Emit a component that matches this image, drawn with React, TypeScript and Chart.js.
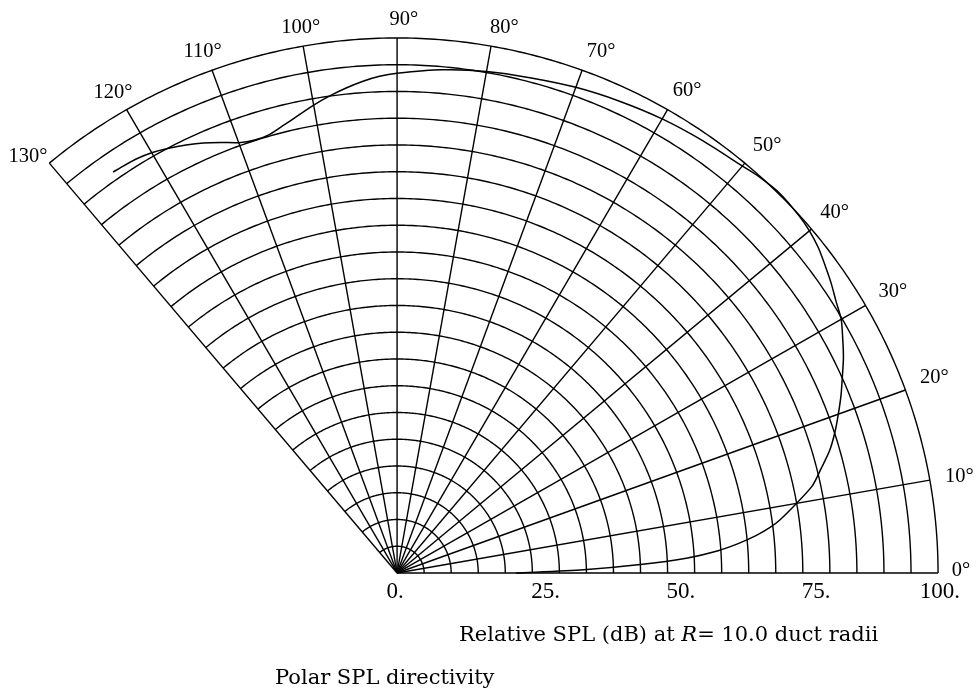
import { useEffect, useRef } from "react";
import { Chart, registerables } from "chart.js";

Chart.register(...registerables);

// Directivity curve: polar angle (deg) and relative SPL (dB, 0-100 radial scale)
const CURVE_ANGLES = [
  0, 1, 2, 3, 4, 5, 6, 7, 8, 10, 12, 14, 16, 18, 20, 22, 24, 26, 28, 30, 32, 34, 36, 38, 40, 42, 45, 48, 50,
  55, 60, 65, 70, 75, 80, 85, 90, 92, 94, 96, 98, 100, 102, 104, 106, 108, 110, 112, 114, 116, 118, 120, 122,
  124, 125,
];
const CURVE_SPL = [
  22, 34.5, 45, 53.8, 59.5, 63.4, 66.7, 69.4, 71.5, 75, 78.5, 80.8, 83.2, 85.1, 86.8, 88.5, 90.1, 91.8, 93.3,
  94.8, 95.7, 96.8, 97.8, 98.8, 99.5, 99.9, 100.2, 99.8, 99.3, 98.6, 98.0, 97.3, 96.6, 95.8, 95.2, 94.4, 93.4,
  92.9, 92.1, 91.1, 90.0, 88.8, 87.5, 86.3, 85.3, 85.1, 85.6, 86.8, 88.0, 89.0, 89.9, 90.7, 91.2, 91.4, 91.5,
];

// Grid: spokes every 10 degrees, rings every 5 dB
const SPOKE_ANGLES = [0, 10, 20, 30, 40, 50, 60, 70, 80, 90, 100, 110, 120, 130];
const RING_VALUES = [5, 10, 15, 20, 25, 30, 35, 40, 45, 50, 55, 60, 65, 70, 75, 80, 85, 90, 95, 100];
const RADIAL_TICKS = [0, 25, 50, 75, 100];
const RADIAL_TICK_LABELS = ["0.", "25.", "50.", "75.", "100."];

const AXIS_TITLE_PARTS = ["Relative SPL (dB) at ", "R", "= 10.0 duct radii"];
const CAPTION = "Polar SPL directivity";

const R_MAX = 100;
const SECTOR_END = 130;

// Data window of the (hidden) cartesian scales
const X_MIN = -73.4;
const X_MAX = 107.2;
const Y_MIN = -21.5;
const Y_MAX = 107.1;

// Angle label centre offsets (px) from the outer-ring end of each spoke
const ANGLE_LABEL_OFFSET: Record<number, [number, number]> = {
  0: [23, -3.8],
  10: [29.5, -5.1],
  20: [29, -13.5],
  30: [27.2, -15.5],
  40: [23, -17.6],
  50: [22.2, -19],
  60: [19.5, -20.9],
  70: [19, -20],
  80: [13.3, -20.3],
  90: [6.7, -20],
  100: [-2.5, -20],
  110: [-9.5, -20],
  120: [-13.7, -18.9],
  130: [-21.4, -7.7],
};

const NUM_FONT = '"Liberation Serif", "Times New Roman", serif';
const TEXT_FONT = '"DejaVu Serif", serif';

const curvePoints = CURVE_ANGLES.map((deg, i) => {
  const t = (deg * Math.PI) / 180;
  return { x: CURVE_SPL[i] * Math.cos(t), y: CURVE_SPL[i] * Math.sin(t) };
});

const polarGrid = {
  id: "polarGrid",
  beforeDatasetsDraw(chart: any) {
    const { ctx } = chart;
    const xs = chart.scales.x;
    const ys = chart.scales.y;
    const P = (r: number, deg: number): [number, number] => {
      const t = (deg * Math.PI) / 180;
      return [xs.getPixelForValue(r * Math.cos(t)), ys.getPixelForValue(r * Math.sin(t))];
    };

    ctx.save();
    ctx.strokeStyle = "#000";
    ctx.lineWidth = 1.4;
    ctx.lineJoin = "round";

    // rings
    for (const r of RING_VALUES) {
      ctx.beginPath();
      for (let d = 0; d <= SECTOR_END; d += 0.5) {
        const [px, py] = P(r, d);
        if (d === 0) ctx.moveTo(px, py);
        else ctx.lineTo(px, py);
      }
      ctx.stroke();
    }

    // spokes
    for (const a of SPOKE_ANGLES) {
      const [x0, y0] = P(0, a);
      const [x1, y1] = P(R_MAX, a);
      ctx.beginPath();
      ctx.moveTo(x0, y0);
      ctx.lineTo(x1, y1);
      ctx.stroke();
    }

    ctx.fillStyle = "#000";

    // angle labels
    const angSize = 20.5;
    ctx.font = `${angSize}px ${NUM_FONT}`;
    ctx.textAlign = "center";
    ctx.textBaseline = "alphabetic";
    for (const a of SPOKE_ANGLES) {
      const [ex, ey] = P(R_MAX, a);
      const [dx, dy] = ANGLE_LABEL_OFFSET[a];
      ctx.fillText(`${a}°`, ex + dx, ey + dy + 0.338 * angSize);
    }

    // radial tick labels along the 0-degree spoke
    const tickSize = 23;
    ctx.font = `${tickSize}px ${NUM_FONT}`;
    const [, axisY] = P(0, 0);
    const tickBase = axisY + 17 + 0.338 * tickSize;
    RADIAL_TICKS.forEach((v, i) => {
      const px = xs.getPixelForValue(v);
      const label = RADIAL_TICK_LABELS[i];
      if (i === 0) {
        ctx.textAlign = "center";
        ctx.fillText(label, px - 2, tickBase);
      } else if (i === RADIAL_TICKS.length - 1) {
        ctx.textAlign = "right";
        ctx.fillText(label, px + 22, tickBase);
      } else {
        ctx.textAlign = "left";
        ctx.fillText(label, px - 1, tickBase);
      }
    });

    // axis title with italic R
    const titleSize = 21;
    const upright = `${titleSize}px ${TEXT_FONT}`;
    const italic = `italic ${titleSize}px ${TEXT_FONT}`;
    const fonts = [upright, italic, upright];
    const widths = AXIS_TITLE_PARTS.map((s, i) => {
      ctx.font = fonts[i];
      return ctx.measureText(s).width;
    });
    const total = widths.reduce((a, b) => a + b, 0);
    let tx = xs.getPixelForValue(50) + 1 - total / 2;
    const titleBase = axisY + 68;
    ctx.textAlign = "left";
    AXIS_TITLE_PARTS.forEach((s, i) => {
      ctx.font = fonts[i];
      ctx.fillText(s, tx, titleBase);
      tx += widths[i];
    });

    // caption
    ctx.font = upright;
    ctx.fillText(CAPTION, 275, axisY + 111);

    ctx.restore();
  },
};

export default function App() {
  const ref = useRef<HTMLCanvasElement>(null);

  useEffect(() => {
    const canvas = ref.current;
    if (!canvas) return;
    const chart = new Chart(canvas, {
      type: "scatter",
      data: {
        datasets: [
          {
            data: curvePoints,
            showLine: true,
            borderColor: "#000",
            borderWidth: 1.5,
            pointRadius: 0,
            tension: 0.25,
            fill: false,
          },
        ],
      },
      options: {
        animation: false,
        responsive: false,
        maintainAspectRatio: false,
        events: [],
        layout: { padding: 0 },
        plugins: { legend: { display: false }, tooltip: { enabled: false } },
        scales: {
          x: { type: "linear", min: X_MIN, max: X_MAX, display: false },
          y: { type: "linear", min: Y_MIN, max: Y_MAX, display: false },
        },
      },
      plugins: [polarGrid],
    });
    return () => chart.destroy();
  }, []);

  return (
    <canvas
      ref={ref}
      width={977}
      height={688}
      style={{ position: "fixed", left: 0, top: 0, background: "#fff", width: 977, height: 688 }}
    />
  );
}
